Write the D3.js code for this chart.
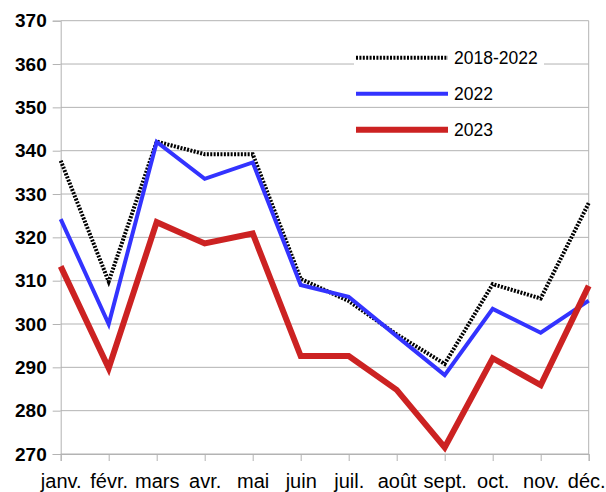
<!DOCTYPE html>
<html>
<head>
<meta charset="utf-8">
<script src="https://cdn.jsdelivr.net/npm/d3@7"></script>
<style>
  body { margin: 0; background: #fff; overflow: hidden; }
  text { font-family: "Liberation Sans", Arial, sans-serif; }
</style>
</head>
<body>
<div id="chart"></div>
<script>
const months = ["janv.", "févr.", "mars", "avr.", "mai", "juin", "juil.", "août", "sept.", "oct.", "nov.", "déc."];
const avg1822 = [337.7, 309.8, 342.1, 339.2, 339.2, 310.4, 305.3, 297.6, 290.8, 309.2, 305.9, 327.9];
const y2022 = [324.2, 300.0, 342.0, 333.5, 337.3, 309.0, 306.3, 297.2, 288.2, 303.5, 298.0, 305.4];
const y2023 = [313.3, 289.8, 323.5, 318.6, 320.9, 292.6, 292.6, 284.8, 271.5, 292.1, 285.9, 308.8];
const yTicks = [270, 280, 290, 300, 310, 320, 330, 340, 350, 360, 370];

const series = [
  { name: "2018-2022", values: avg1822, color: "#000", width: 4, dash: "2,1.4" },
  { name: "2022", values: y2022, color: "#3333ff", width: 4, dash: null },
  { name: "2023", values: y2023, color: "#cc2222", width: 6, dash: null }
];

const width = 606, height = 492;
const margin = { top: 20.7, right: 17.3, bottom: 38, left: 60.7 };

const svg = d3.select("#chart").append("svg")
    .attr("width", width)
    .attr("height", height);

const x = d3.scalePoint()
    .domain(months)
    .range([margin.left, width - margin.right]);

const y = d3.scaleLinear()
    .domain([270, 370])
    .range([height - margin.bottom, margin.top]);

// grid
svg.append("g")
    .selectAll("line")
    .data(yTicks)
    .enter().append("line")
    .attr("x1", margin.left)
    .attr("x2", width - margin.right)
    .attr("y1", d => y(d))
    .attr("y2", d => y(d))
    .attr("stroke", "#b3b3b3")
    .attr("stroke-width", 1);

// y axis
const yAxis = svg.append("g")
    .attr("transform", `translate(${margin.left},0)`)
    .call(d3.axisLeft(y).tickValues(yTicks).tickSize(8).tickPadding(6));
yAxis.select(".domain").attr("stroke", "#b3b3b3");
yAxis.selectAll(".tick line").attr("stroke", "#b3b3b3");
yAxis.selectAll("text")
    .attr("font-size", 19)
    .attr("font-weight", "bold")
    .attr("fill", "#000")
    .attr("font-family", "Liberation Sans, Arial, sans-serif");

// x axis
const xAxis = svg.append("g")
    .attr("transform", `translate(0,${height - margin.bottom})`)
    .call(d3.axisBottom(x).tickSize(7).tickPadding(13));
xAxis.select(".domain").attr("stroke", "#b3b3b3");
xAxis.selectAll(".tick line").attr("stroke", "#b3b3b3");
xAxis.selectAll("text")
    .attr("font-size", 20)
    .attr("fill", "#000")
    .attr("font-family", "Liberation Sans, Arial, sans-serif")
    .attr("dx", (d, i) => i === months.length - 1 ? -2.5 : 0);

// right edge line
svg.append("line")
    .attr("x1", width - margin.right).attr("x2", width - margin.right)
    .attr("y1", margin.top).attr("y2", height - margin.bottom)
    .attr("stroke", "#b3b3b3");

const line = d3.line()
    .x((d, i) => x(months[i]))
    .y(d => y(d));

svg.append("g")
    .selectAll("path")
    .data(series)
    .enter().append("path")
    .attr("d", d => line(d.values))
    .attr("fill", "none")
    .attr("stroke", d => d.color)
    .attr("stroke-width", d => d.width)
    .attr("stroke-dasharray", d => d.dash)
    .attr("stroke-linejoin", "miter");

// legend
const legend = svg.append("g")
    .selectAll("g")
    .data(series)
    .enter().append("g")
    .attr("transform", (d, i) => `translate(356,${57.7 + i * 36})`);

legend.append("rect")
    .attr("x", -2).attr("y", -10).attr("width", 190).attr("height", 20)
    .attr("fill", "#fff");

legend.append("line")
    .attr("x1", 0).attr("x2", 92)
    .attr("stroke", d => d.color)
    .attr("stroke-width", d => d.width)
    .attr("stroke-dasharray", d => d.dash);

legend.append("text")
    .attr("x", 98)
    .attr("dy", "0.36em")
    .attr("font-size", 17.5)
    .attr("fill", "#000")
    .text(d => d.name);
</script>
</body>
</html>
